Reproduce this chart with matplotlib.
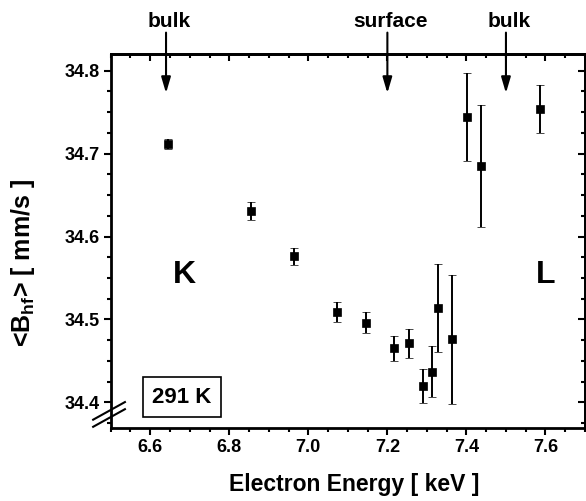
import matplotlib
matplotlib.use("Agg")
import matplotlib.pyplot as plt
from matplotlib.ticker import MultipleLocator, FormatStrFormatter
from matplotlib.patches import ArrowStyle

plt.rcParams["font.family"] = ["Liberation Sans", "DejaVu Sans"]
plt.rcParams["font.weight"] = "bold"
plt.rcParams["mathtext.fontset"] = "custom"
plt.rcParams["mathtext.rm"] = "Liberation Sans:bold"
plt.rcParams["mathtext.it"] = "Liberation Sans:bold"
plt.rcParams["mathtext.bf"] = "Liberation Sans:bold"

# Mean hyperfine field vs. electron energy
energy = [6.644, 6.856, 6.963, 7.072, 7.145, 7.216, 7.254, 7.290, 7.313, 7.327,
          7.364, 7.401, 7.437, 7.587]
bhf = [34.712, 34.631, 34.576, 34.509, 34.496, 34.465, 34.471, 34.420, 34.437,
       34.514, 34.476, 34.744, 34.685, 34.754]
bhf_err = [0.006, 0.0105, 0.0105, 0.012, 0.0127, 0.015, 0.018, 0.0206, 0.0306,
           0.053, 0.078, 0.053, 0.074, 0.029]

# Marked energies (edges)
marker_energy = [6.64, 7.2, 7.5]
marker_text = ["bulk", "surface", "bulk"]

fig = plt.figure(figsize=(5.86, 5.01), dpi=100)
ax = fig.add_axes([0.1889, 0.1451, 0.8094, 0.7481])

ax.errorbar(energy, bhf, yerr=bhf_err, fmt="s", color="black", ms=6.2, mew=0.5,
            elinewidth=1.4, capsize=3, capthick=1.4, zorder=3)

ax.set_xlim(6.5, 7.7)
ax.set_ylim(34.3686, 34.8208)

ax.xaxis.set_major_locator(MultipleLocator(0.2))
ax.xaxis.set_minor_locator(MultipleLocator(0.05))
ax.yaxis.set_major_locator(MultipleLocator(0.1))
ax.yaxis.set_minor_locator(MultipleLocator(0.025))
ax.xaxis.set_major_formatter(FormatStrFormatter("%.1f"))
ax.yaxis.set_major_formatter(FormatStrFormatter("%.1f"))

for s in ax.spines.values():
    s.set_linewidth(2)

ax.tick_params(which="both", direction="out", width=1.5, labelsize=13,
               top=False, right=False, pad=3)
ax.tick_params(which="major", length=5)
ax.tick_params(which="minor", length=3.2)

# inward ticks on top and right
sx = ax.secondary_xaxis("top")
sx.xaxis.set_major_locator(MultipleLocator(0.2))
sx.xaxis.set_minor_locator(MultipleLocator(0.05))
sx.tick_params(which="both", direction="in", width=1.5, labeltop=False)
sx.tick_params(which="major", length=5)
sx.tick_params(which="minor", length=3.2)
sx.spines["top"].set_linewidth(2)

sy = ax.secondary_yaxis("right")
sy.yaxis.set_major_locator(MultipleLocator(0.1))
sy.yaxis.set_minor_locator(MultipleLocator(0.025))
sy.tick_params(which="both", direction="in", width=1.5, labelright=False)
sy.tick_params(which="major", length=5)
sy.tick_params(which="minor", length=3.2)
sy.spines["right"].set_linewidth(2)

ax.set_xlabel("Electron Energy [ keV ]", fontsize=16.5, fontweight="bold")
ax.xaxis.set_label_coords(0.513, -0.12)
ax.set_ylabel("<B$_{hf}$> [ mm/s ]", fontsize=18, fontweight="bold")
ax.yaxis.set_label_coords(-0.155, 0.442)

# arrows marking bulk / surface energies
head = ArrowStyle("-|>", head_length=9.5, head_width=2.8)
for xe, lab in zip(marker_energy, marker_text):
    ax.annotate("", xy=(xe, 34.773), xytext=(xe, 34.846),
                arrowprops=dict(arrowstyle=head, mutation_scale=1, lw=1.5,
                                color="black", shrinkA=0, shrinkB=0),
                annotation_clip=False)
    ax.text(xe + 0.008, 34.853, lab, ha="center", va="baseline", fontsize=15,
            fontweight="bold", clip_on=False)

ax.text(6.686, 34.554, "K", ha="center", va="center", fontsize=23, fontweight="bold")
ax.text(7.600, 34.554, "L", ha="center", va="center", fontsize=23, fontweight="bold")

ax.text(0.1497, 0.0835, "291 K", transform=ax.transAxes, ha="center", va="center",
        fontsize=16, fontweight="bold",
        bbox=dict(boxstyle="square,pad=0.42", fc="white", ec="black", lw=1.2))

# axis break marks on the y axis
for y0 in (0.004, 0.023):
    ax.plot([-0.037, 0.030], [y0, y0 + 0.047], color="black", lw=1.5,
            transform=ax.transAxes, clip_on=False, zorder=5)

fig.savefig("out.png", dpi=100)
